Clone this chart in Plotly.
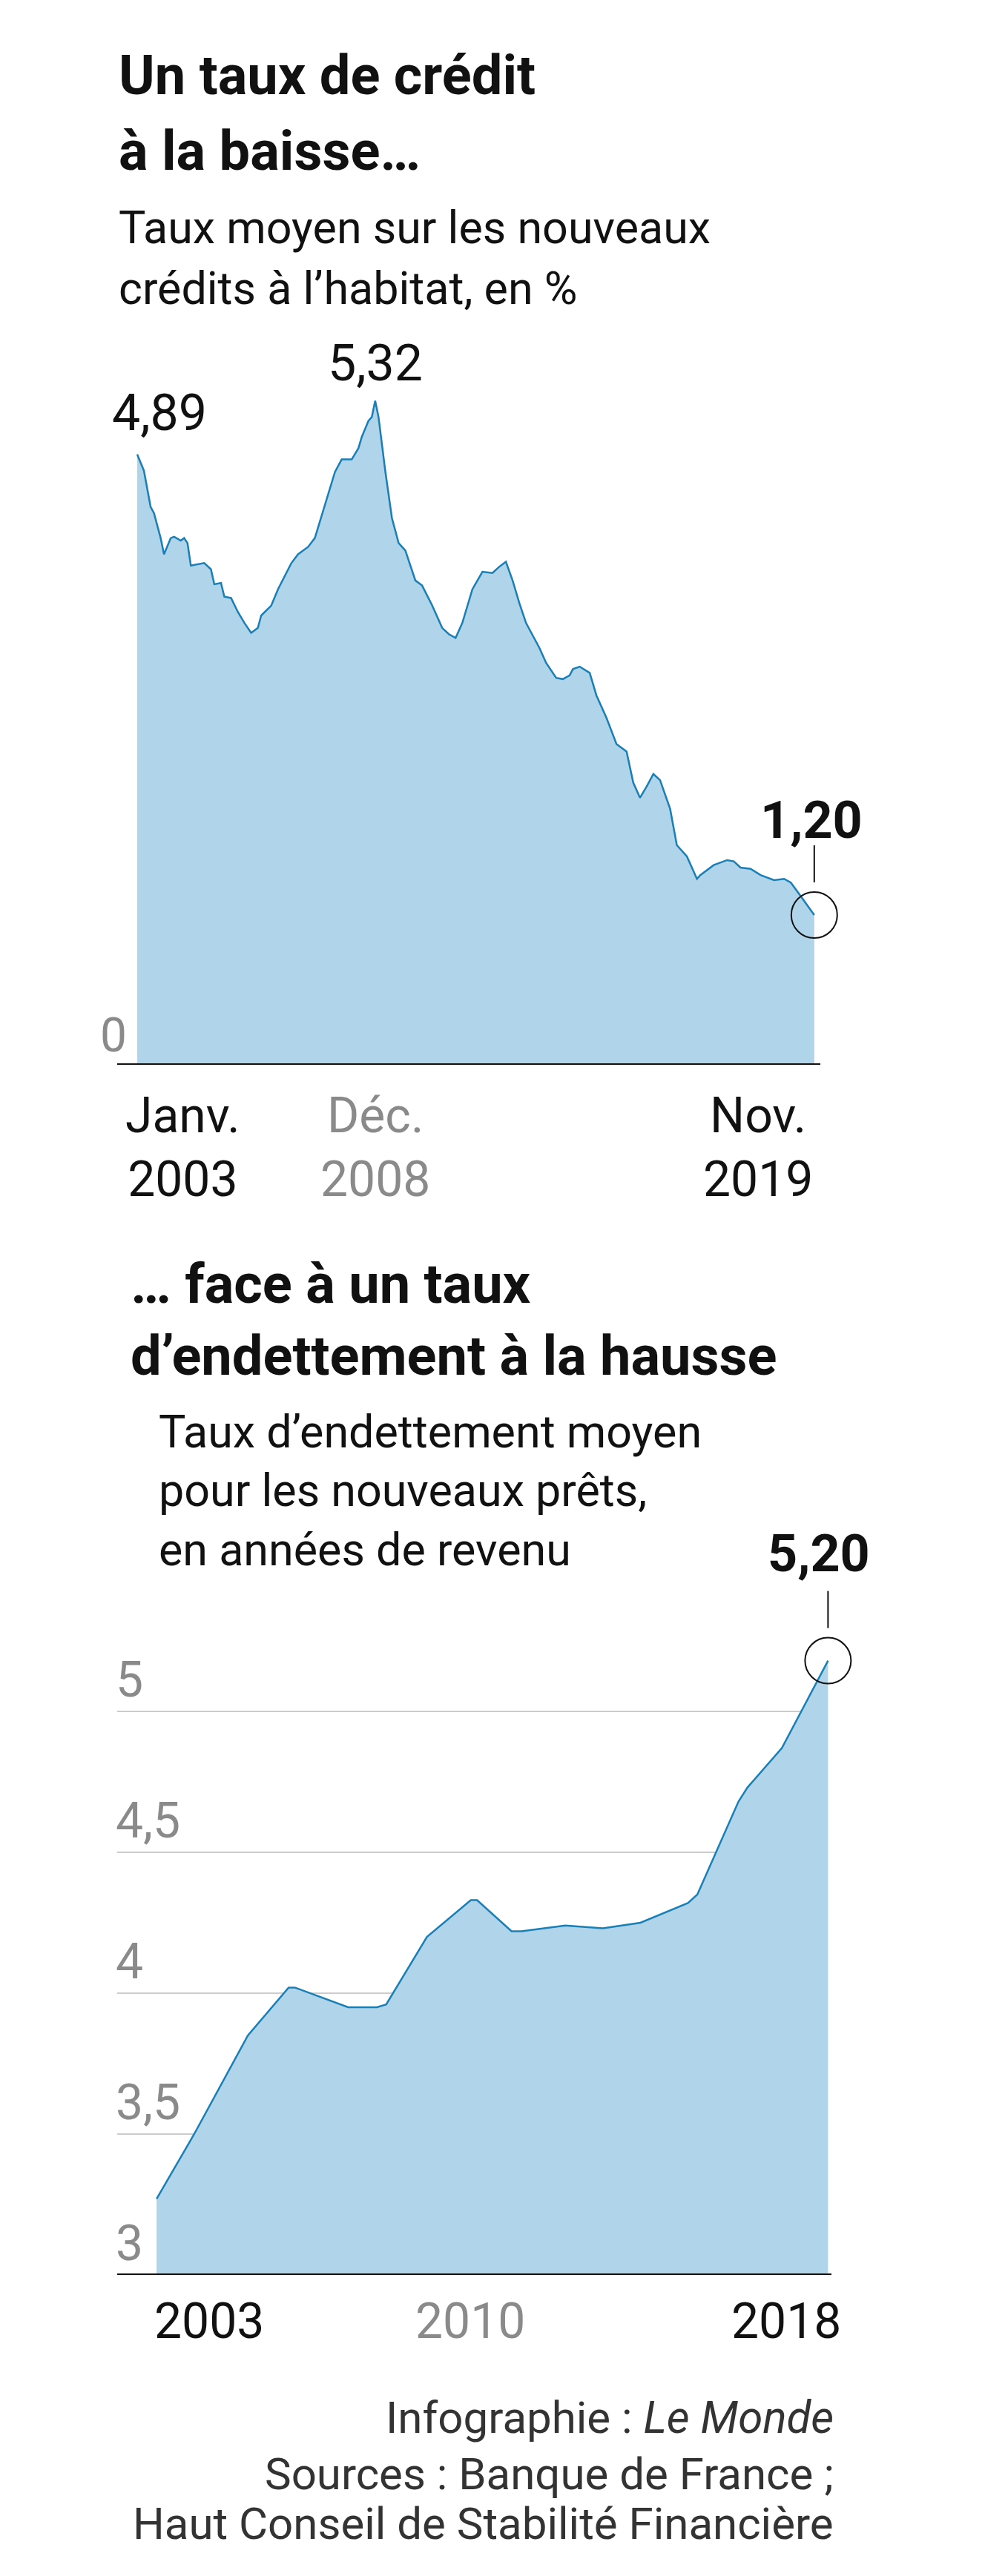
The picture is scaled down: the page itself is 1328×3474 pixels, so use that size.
import plotly.graph_objects as go

# ---- data: mortgage rate, months since Jan 2003 ----
rate_month = [0, 2, 4, 5, 7, 8, 10, 11, 13, 14, 15, 16, 20, 22, 23, 25, 26, 28, 30, 32, 34, 36,
              37, 40, 42, 46, 48, 51, 53, 56, 59, 61, 64, 66, 67, 69, 70, 71, 72, 74, 76, 78, 80,
              83, 85, 88, 91, 93, 95, 97, 100, 103, 106, 108, 110, 112, 114, 116, 120, 122, 125,
              127, 129, 130, 132, 135, 137, 140, 143, 146, 148, 150, 152, 154, 156, 159, 161, 164,
              167, 168, 172, 176, 178, 180, 183, 186, 190, 193, 195, 198, 202]
rate_value = [4.89, 4.76, 4.47, 4.42, 4.22, 4.09, 4.22, 4.23, 4.20, 4.22, 4.18, 4.00, 4.02, 3.97,
              3.85, 3.86, 3.75, 3.74, 3.63, 3.54, 3.46, 3.50, 3.60, 3.68, 3.81, 4.02, 4.09, 4.15,
              4.22, 4.49, 4.75, 4.85, 4.85, 4.94, 5.03, 5.16, 5.19, 5.32, 5.19, 4.76, 4.38, 4.18,
              4.12, 3.88, 3.84, 3.68, 3.50, 3.45, 3.42, 3.54, 3.81, 3.95, 3.94, 3.99, 4.03, 3.88,
              3.70, 3.54, 3.34, 3.22, 3.10, 3.09, 3.12, 3.17, 3.19, 3.14, 2.96, 2.78, 2.57, 2.51,
              2.26, 2.14, 2.23, 2.33, 2.28, 2.05, 1.76, 1.67, 1.49, 1.52, 1.60, 1.64, 1.63, 1.58,
              1.57, 1.52, 1.48, 1.49, 1.46, 1.35, 1.20]
rate_ticks = [0, 71, 202]
rate_ticklabels = ["Janv.<br>2003", "Déc.<br>2008", "Nov.<br>2019"]

# ---- data: debt ratio, years of income ----
debt_year = [2003.0, 2003.84, 2005.04, 2005.95, 2006.09, 2007.28, 2007.92, 2008.13, 2009.04,
             2010.02, 2010.16, 2010.93, 2011.15, 2012.13, 2012.97, 2013.81, 2014.87, 2015.08,
             2016.0, 2016.2, 2016.97, 2018.0]
debt_value = [3.27, 3.50, 3.85, 4.02, 4.02, 3.95, 3.95, 3.96, 4.20, 4.33, 4.33, 4.22, 4.22, 4.24,
              4.23, 4.25, 4.32, 4.35, 4.68, 4.73, 4.87, 5.18]
debt_ticks = [2003, 2010, 2018]
debt_yticks = [3, 3.5, 4, 4.5, 5]
debt_yticklabels = ["3", "3,5", "4", "4,5", "5"]

W, H = 1328, 3474
FONT = "Roboto, sans-serif"
FILL = "#b0d4e9"
LINE = "#1a7fb5"
GREY = "#8a8a8a"

def px_x(p):
    return p / W

def px_y(p):
    return 1 - p / H

fig = go.Figure()
fig.add_trace(go.Scatter(x=rate_month, y=rate_value, mode="lines", fill="tozeroy",
                         fillcolor=FILL, line=dict(color=LINE, width=2.5),
                         xaxis="x", yaxis="y", hoverinfo="skip"))
fig.add_trace(go.Scatter(x=debt_year, y=debt_value, mode="lines", fill="tozeroy",
                         fillcolor=FILL, line=dict(color=LINE, width=2.5),
                         xaxis="x2", yaxis="y2", hoverinfo="skip"))

fig.update_layout(
    width=W, height=H, margin=dict(l=0, r=0, t=0, b=0),
    paper_bgcolor="white", plot_bgcolor="white", showlegend=False,
    font=dict(family=FONT, color="#111"),
    xaxis=dict(domain=[px_x(150), px_x(1135)], range=[-5.97, 212], showgrid=False,
               zeroline=False, showticklabels=False, showline=False),
    yaxis=dict(domain=[px_y(1428), px_y(418)], range=[0, 6], showgrid=False,
               zeroline=False, showticklabels=False),
    xaxis2=dict(domain=[px_x(150), px_x(1150)], range=[2002.12, 2018.69], showgrid=False,
                zeroline=False, showticklabels=False, showline=False, anchor="y2"),
    yaxis2=dict(domain=[px_y(3060), px_y(2072)], range=[3, 5.6], showgrid=False,
                zeroline=False, showticklabels=False, anchor="x2"),
)

# grid lines (bottom chart) and baselines
for v in debt_yticks[1:]:
    fig.add_shape(type="line", xref="paper", yref="y2", x0=px_x(150), x1=px_x(1071),
                  y0=v, y1=v, layer="below", line=dict(color="#cccccc", width=2))
fig.add_shape(type="line", xref="paper", yref="y", x0=px_x(150), x1=px_x(1098),
              y0=0, y1=0, line=dict(color="#111", width=4))
fig.add_shape(type="line", xref="paper", yref="y2", x0=px_x(150), x1=px_x(1113),
              y0=3, y1=3, line=dict(color="#111", width=4))

ann = []
# titles
for txt, y, size, bold, x in [
    ("Un taux de crédit", 93, 74, True, 150),
    ("à la baisse…", 195, 74, True, 150),
    ("Taux moyen sur les nouveaux", 299, 61, False, 150),
    ("crédits à l’habitat, en %", 381, 61, False, 150),
    ("… face à un taux", 1723, 74, True, 166),
    ("d’endettement à la hausse", 1820, 74, True, 166),
    ("Taux d’endettement moyen", 1923, 61, False, 204),
    ("pour les nouveaux prêts,", 2002, 61, False, 204),
    ("en années de revenu", 2082, 61, False, 204),
]:
    ann.append(dict(text=f"<b>{txt}</b>" if bold else txt, x=px_x(x), y=px_y(y),
                    xref="paper", yref="paper", xanchor="left", yanchor="middle",
                    showarrow=False, font=dict(size=size, color="#111")))

# top chart labels
ann.append(dict(text="4,89", x=rate_month[0], y=rate_value[0], xref="x", yref="y",
                xanchor="center", yanchor="middle", xshift=30, yshift=56,
                showarrow=False, font=dict(size=68)))
ann.append(dict(text="5,32", x=71, y=5.32, xref="x", yref="y", xanchor="center",
                yanchor="middle", yshift=50, showarrow=False, font=dict(size=68)))
ann.append(dict(text="<b>1,20</b>", x=rate_month[-1], y=rate_value[-1], xref="x", yref="y",
                xanchor="center", yanchor="middle", yshift=128, xshift=-4,
                showarrow=False, font=dict(size=70, color="#111")))
ann.append(dict(text="0", x=px_x(145), y=0, xref="paper", yref="y", xanchor="center",
                yanchor="bottom", showarrow=False, font=dict(size=64, color=GREY)))
for v, lab in zip(rate_ticks, rate_ticklabels):
    anchor = "left" if v == rate_ticks[0] else ("right" if v == rate_ticks[-1] else "center")
    shift = -18 if v == rate_ticks[0] else 0
    ann.append(dict(text=lab, x=v, y=0, xref="x", yref="y", xanchor=anchor, yanchor="top",
                    xshift=shift, yshift=-28, showarrow=False,
                    font=dict(size=66, color=GREY if v == 71 else "#111")))

# bottom chart labels
for v, lab in zip(debt_yticks, debt_yticklabels):
    ann.append(dict(text=lab, x=px_x(146), y=v, xref="paper", yref="y2", xanchor="left",
                    yanchor="bottom", yshift=2, showarrow=False,
                    font=dict(size=66, color=GREY)))
for v in debt_ticks:
    anchor = "left" if v == debt_ticks[0] else ("right" if v == debt_ticks[-1] else "center")
    shift = -5 if v == debt_ticks[0] else (20 if v == debt_ticks[-1] else 0)
    ann.append(dict(text=str(v), x=v, y=3, xref="x2", yref="y2", xanchor=anchor, yanchor="top",
                    xshift=shift, yshift=-22, showarrow=False,
                    font=dict(size=66, color=GREY if v == 2010 else "#111")))
ann.append(dict(text="<b>5,20</b>", x=debt_year[-1], y=debt_value[-1], xref="x2", yref="y2",
                xanchor="center", yanchor="middle", yshift=145, xshift=-12,
                showarrow=False, font=dict(size=70, color="#111")))

# footer
for txt, y in [("Infographie : <i>Le Monde</i>", 3252),
               ("Sources : Banque de France ;", 3328),
               ("Haut Conseil de Stabilité Financière", 3395)]:
    ann.append(dict(text=txt, x=px_x(1118), y=px_y(y), xref="paper", yref="paper",
                    xanchor="right", yanchor="middle", showarrow=False,
                    font=dict(size=60, color="#333")))
fig.update_layout(annotations=ann)

# highlight circles and leader lines
for xr, yr, xv, yv in [("x", "y", rate_month[-1], rate_value[-1]),
                       ("x2", "y2", debt_year[-1], debt_value[-1])]:
    fig.add_shape(type="circle", xref=xr, yref=yr, xsizemode="pixel", ysizemode="pixel",
                  xanchor=xv, yanchor=yv, x0=-31, x1=31, y0=-31, y1=31,
                  line=dict(color="#111", width=2))
    fig.add_shape(type="line", xref=xr, yref=yr, xsizemode="pixel", ysizemode="pixel",
                  xanchor=xv, yanchor=yv, x0=0, x1=0, y0=44, y1=94,
                  line=dict(color="#111", width=2))

fig.write_html("out.html")
